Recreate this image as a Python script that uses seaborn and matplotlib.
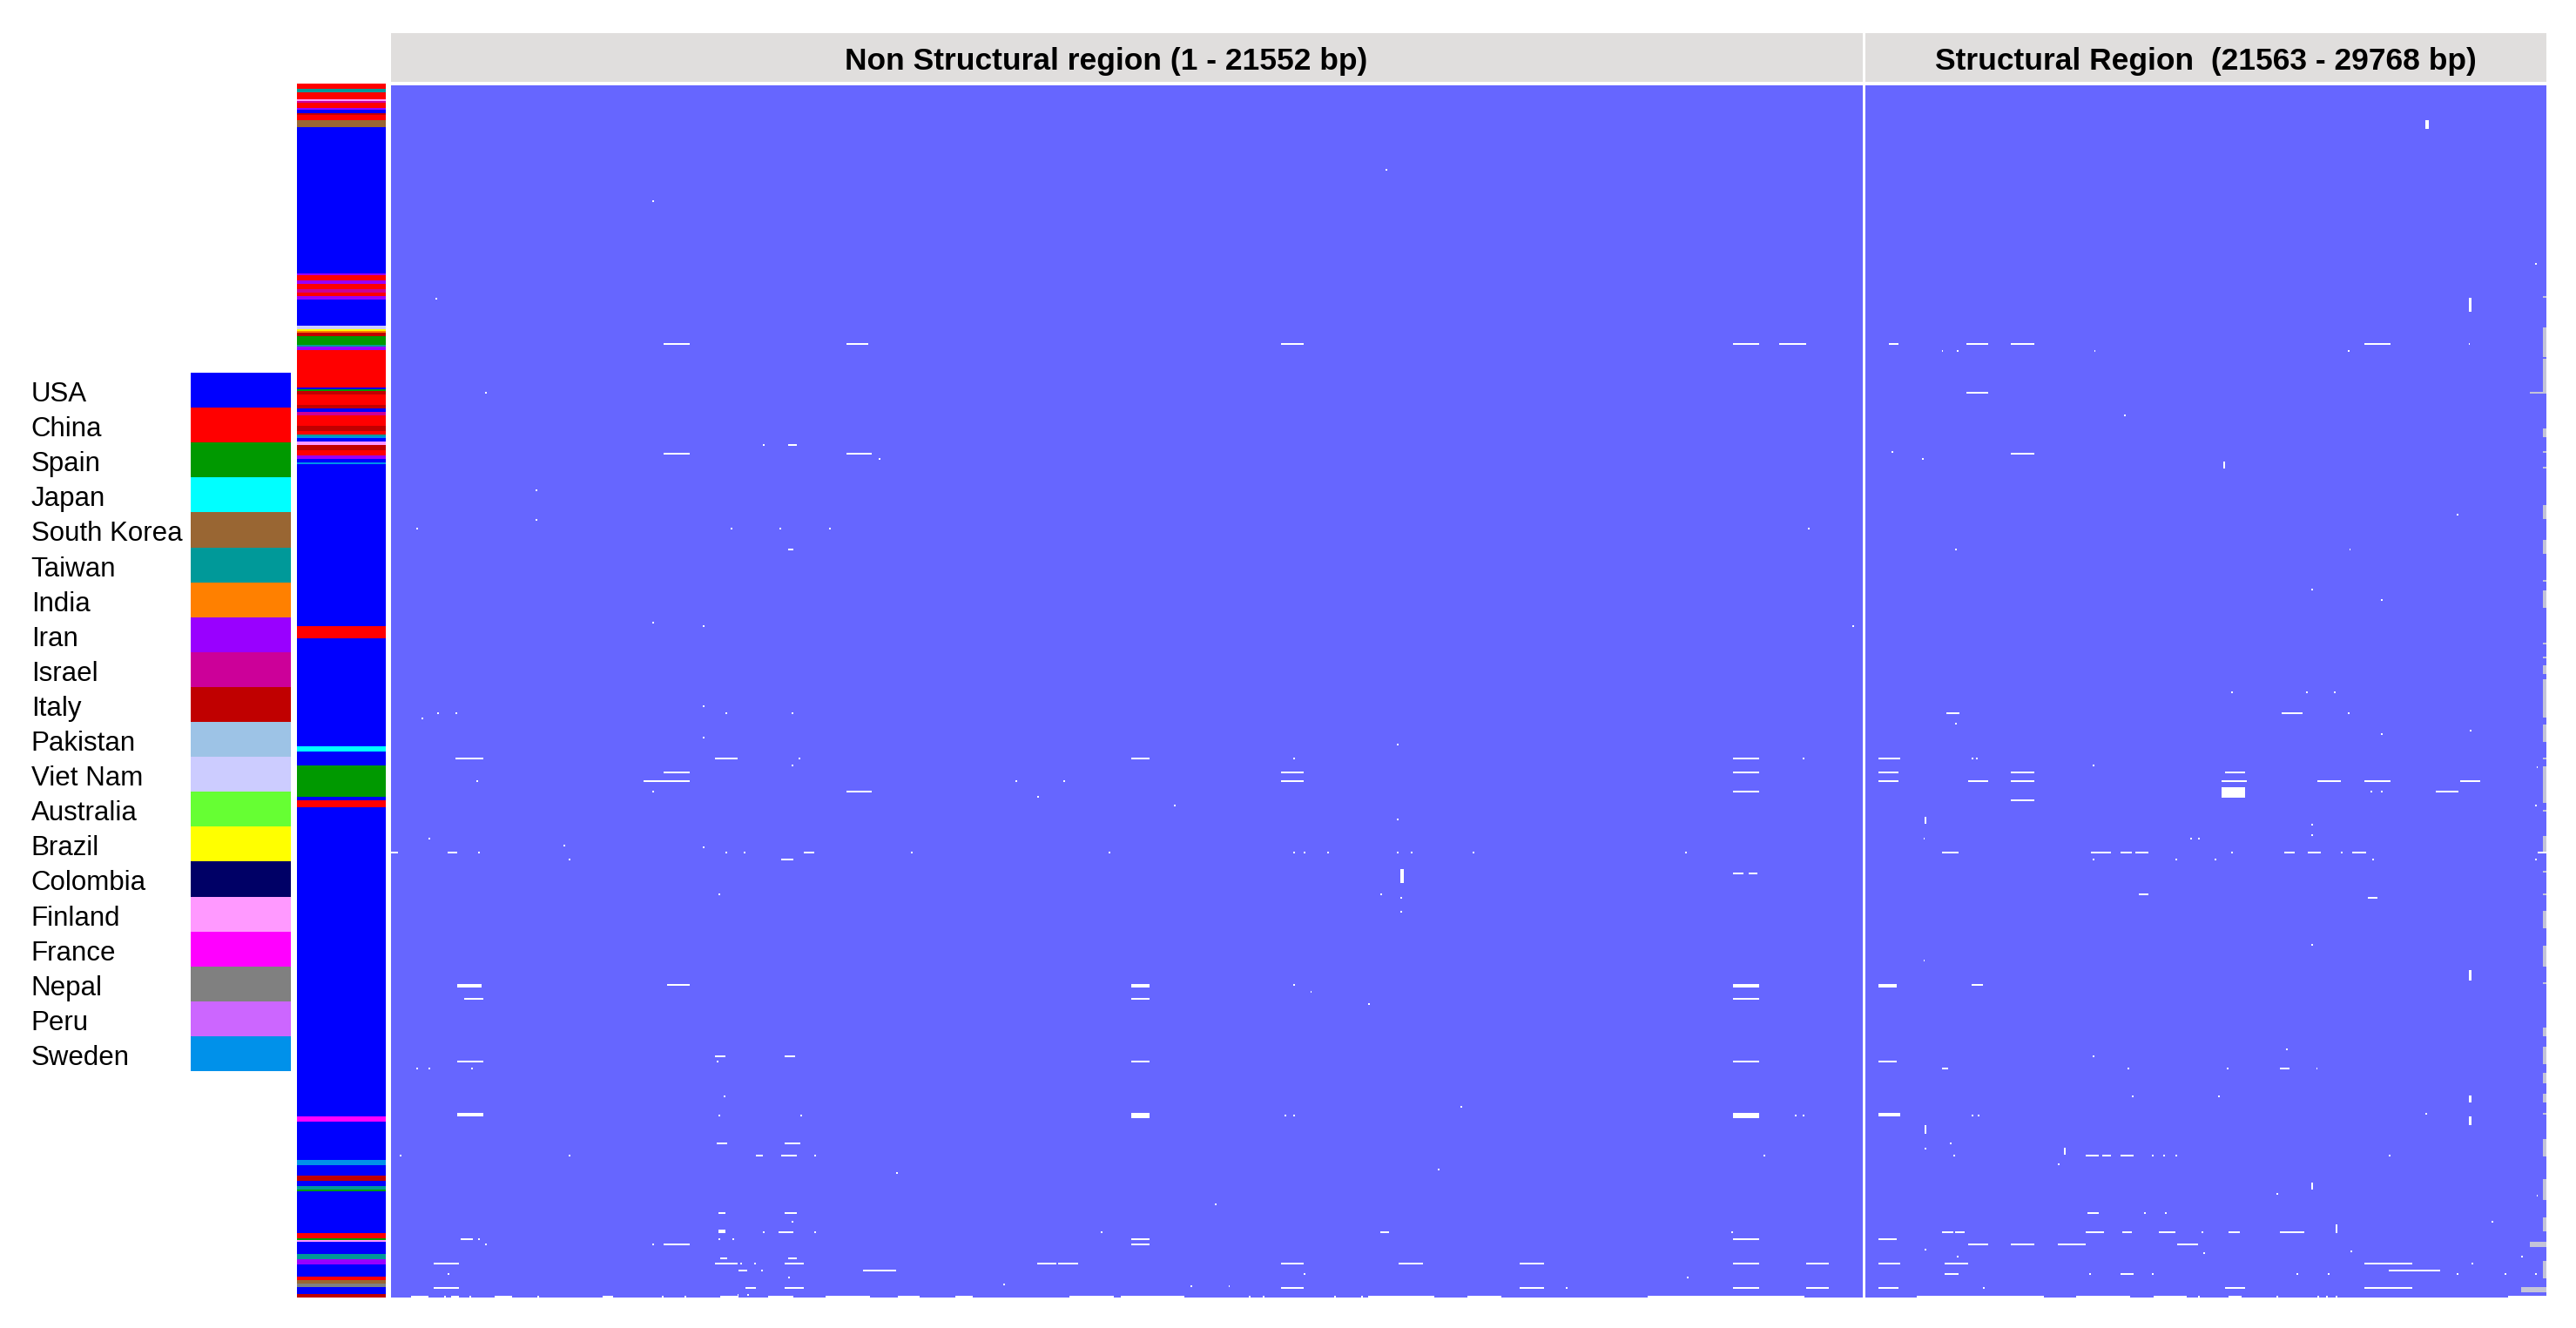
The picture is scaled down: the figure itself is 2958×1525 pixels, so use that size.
import numpy as np
import matplotlib
matplotlib.use("Agg")
import matplotlib.pyplot as plt
import matplotlib.transforms as mtransforms
from matplotlib.colors import ListedColormap
import seaborn as sns

plt.rcParams['font.family'] = ['Liberation Sans', 'DejaVu Sans']

countries = ["USA", "China", "Spain", "Japan", "South Korea", "Taiwan", "India",
             "Iran", "Israel", "Italy", "Pakistan", "Viet Nam", "Australia", "Brazil",
             "Colombia", "Finland", "France", "Nepal", "Peru", "Sweden"]
country_colors = ["#0000FF", "#FF0000", "#009900", "#00FFFF", "#996633", "#009999",
                  "#FF8000", "#9900FF", "#CC0099", "#C00000", "#9DC3E6", "#CCCCFF",
                  "#66FF33", "#FFFF00", "#000066", "#FF99FF", "#FF00FF", "#808080",
                  "#CC66FF", "#0091EA"]

regions = ["Non Structural region (1 - 21552 bp)", "Structural Region  (21563 - 29768 bp)"]
ns_start, ns_end = 1, 21552
s_start, s_end = 21563, 29768

# sequence order, top to bottom, as runs of (country, number of sequences)
seq_runs = [("China", 3), ("Taiwan", 2), ("China", 4), ("Finland", 1), ("Israel", 1),
            ("China", 3), ("Iran", 1), ("USA", 2), ("Italy", 1), ("China", 3),
            ("South Korea", 4), ("USA", 84), ("Iran", 1), ("China", 3), ("Iran", 2),
            ("China", 3), ("Israel", 2), ("China", 2), ("Iran", 2), ("USA", 15),
            ("Viet Nam", 2), ("Brazil", 1), ("India", 1), ("Italy", 2), ("Spain", 5),
            ("Taiwan", 1), ("Iran", 2), ("China", 21), ("USA", 1), ("Spain", 1),
            ("Italy", 2), ("China", 6), ("Italy", 2), ("USA", 2), ("Israel", 2),
            ("China", 6), ("Italy", 3), ("China", 2), ("Taiwan", 1), ("Sweden", 1),
            ("USA", 2), ("Finland", 2), ("Italy", 3), ("China", 3), ("Iran", 2),
            ("USA", 2), ("Sweden", 1), ("USA", 93), ("China", 7), ("USA", 62),
            ("Japan", 3), ("USA", 8), ("Spain", 18), ("USA", 2), ("China", 4),
            ("USA", 177), ("France", 3), ("USA", 22), ("Sweden", 3), ("USA", 6),
            ("Italy", 3), ("USA", 3), ("Taiwan", 2), ("Spain", 1), ("USA", 24),
            ("China", 3), ("Spain", 1), ("Finland", 1), ("USA", 7), ("Taiwan", 3),
            ("Iran", 3), ("USA", 7), ("China", 2), ("South Korea", 2), ("Nepal", 2),
            ("USA", 4), ("Italy", 2)]

# single-site differences: (sequence, position bp)
ns_dots = [(48, 14590), (66, 3830), (122, 660), (176, 1380), (206, 5470), (214, 7170),
           (232, 2140), (249, 2140), (254, 400), (254, 4990), (254, 5710), (254, 6440),
           (254, 20780), (308, 3830), (310, 4580), (310, 21430),
           (356, 4590), (360, 690), (360, 960), (360, 4920), (360, 5900), (363, 460),
           (374, 4590), (378, 14760), (386, 6000), (386, 13230), (386, 20720), (390, 5890),
           (399, 1260), (399, 9170), (399, 9870), (405, 3830), (408, 9490), (413, 11480),
           (421, 14760), (432, 570), (436, 2550), (437, 4590), (440, 1290), (440, 4910),
           (440, 5190), (440, 7650), (440, 10540), (440, 13250), (440, 13400), (440, 13740),
           (440, 14760), (440, 14960), (440, 15860), (440, 19000), (444, 2610), (464, 4820),
           (464, 14510), (466, 14820), (474, 14820), (516, 13230), (520, 13500), (527, 14330),
           (560, 4790), (564, 380), (564, 570), (564, 1190), (580, 4880), (586, 15700),
           (591, 4820), (591, 6010), (591, 13110), (591, 13230), (591, 20600), (591, 20720),
           (614, 140), (614, 2610), (614, 6220), (614, 20150), (622, 15360), (624, 7420),
           (642, 12090), (652, 5890), (658, 5460), (658, 6220), (658, 10420), (658, 19670),
           (662, 1290), (662, 4820), (662, 5010), (665, 1390), (665, 3830), (676, 5150),
           (676, 5340), (680, 5440), (682, 850), (682, 13400), (684, 5840), (684, 19010),
           (688, 9000), (689, 11740), (689, 12300), (690, 17230), (694, 5090), (694, 5250),
           (695, 380), (695, 790), (695, 1170), (695, 2170), (695, 3980), (695, 4310),
           (695, 12580), (695, 12800), (695, 13850), (695, 14240)]
s_dots = [(102, 29650), (148, 28860), (152, 22500), (152, 22670), (152, 24340), (152, 27400),
          (189, 24690), (210, 21890), (214, 22260), (246, 28710), (266, 22660), (266, 27420),
          (289, 26950), (295, 27800), (348, 26000), (348, 26900), (348, 27230),
          (360, 27400), (366, 22660), (370, 28870), (372, 27800), (386, 22850), (386, 22920),
          (390, 24320), (391, 29680), (405, 27680), (405, 27800), (413, 29650), (424, 26950),
          (430, 26950), (432, 22280), (432, 25490), (432, 25600), (440, 26000), (440, 27320),
          (444, 24320), (444, 25320), (444, 25790), (444, 27700), (444, 29650), (493, 26950),
          (502, 22280), (553, 26650), (557, 24320), (564, 24730), (564, 25930), (564, 27020),
          (580, 24790), (580, 25830), (590, 28340), (591, 22860), (591, 22940), (607, 22590),
          (610, 22290), (614, 22640), (614, 25030), (614, 25170), (614, 25320), (614, 27900),
          (619, 23890), (636, 26540), (637, 29680), (647, 24930), (647, 25200), (652, 29140),
          (658, 25630), (668, 22290), (669, 27440), (670, 25660), (672, 29500), (672, 22680),
          (676, 28900), (682, 24280), (682, 25030), (682, 26770), (682, 27150), (682, 28710),
          (682, 29300), (682, 29650), (690, 23000), (695, 25600), (695, 26540), (695, 27030),
          (695, 27140), (695, 27250)]

# longer stretches: (first sequence, start bp, end bp, number of sequences)
ns_runs = [(148, 4020, 4370, 1), (148, 6690, 6990, 1), (148, 13070, 13370, 1),
           (148, 19690, 20030, 1), (148, 20370, 20740, 1), (206, 5850, 5930, 1),
           (211, 4020, 4370, 1), (211, 6690, 7030, 1), (266, 5850, 5900, 1),
           (386, 960, 1350, 1), (386, 4760, 5060, 1), (386, 10860, 11110, 1),
           (386, 19690, 20030, 1), (394, 4020, 4370, 1), (394, 13070, 13370, 1),
           (394, 19690, 20030, 1), (399, 3710, 4370, 1), (399, 13070, 13370, 1),
           (405, 6690, 7040, 1), (405, 19690, 20030, 1), (440, 1, 80, 1), (440, 830, 960, 1),
           (440, 6070, 6180, 1), (444, 5740, 5890, 1), (450, 14820, 14830, 8),
           (452, 19690, 19810, 1), (452, 19920, 20020, 1), (516, 990, 1310, 2),
           (516, 4070, 4360, 1), (516, 10860, 11110, 2), (516, 19690, 20030, 2),
           (524, 1100, 1330, 1), (524, 10860, 11110, 1), (524, 19690, 20030, 1),
           (557, 4760, 4900, 1), (557, 5780, 5920, 1), (560, 990, 1330, 1),
           (560, 10860, 11110, 1), (560, 19690, 20030, 1), (590, 990, 1330, 2),
           (590, 10860, 11110, 3), (590, 19690, 20030, 3), (607, 4790, 4920, 1),
           (607, 5800, 5980, 1), (614, 5360, 5440, 1), (614, 5750, 5950, 1),
           (647, 4810, 4900, 1), (647, 5800, 5940, 1), (657, 4810, 4900, 2),
           (658, 5700, 5890, 1), (658, 14510, 14610, 1), (662, 1050, 1190, 1),
           (662, 10860, 11110, 1), (662, 19690, 20030, 1), (665, 4020, 4370, 1),
           (665, 10860, 11110, 1), (673, 4830, 4910, 1), (673, 5830, 5940, 1),
           (676, 640, 980, 1), (676, 4760, 5060, 1), (676, 5780, 6040, 1),
           (676, 9490, 9730, 1), (676, 9800, 10070, 1), (676, 13070, 13370, 1),
           (676, 14780, 15110, 1), (676, 16560, 16890, 1), (676, 19690, 20030, 1),
           (676, 20760, 21060, 1), (680, 5110, 5210, 1), (680, 6950, 7380, 1),
           (690, 640, 980, 1), (690, 5210, 5340, 1), (690, 5780, 6040, 1),
           (690, 13070, 13370, 1), (690, 16560, 16890, 1), (690, 19690, 20030, 1),
           (690, 20760, 21060, 1), (695, 310, 540, 1), (695, 890, 990, 1),
           (695, 1530, 1770, 1), (695, 3110, 3230, 1), (695, 4850, 5090, 1),
           (695, 5530, 5900, 1), (695, 6390, 7010, 1), (695, 7450, 7740, 1),
           (695, 8290, 8520, 1), (695, 9960, 10580, 1), (695, 10720, 11620, 1),
           (695, 14330, 15290, 1), (695, 15780, 16260, 1), (695, 18450, 20710, 1)]
s_runs = [(20, 28340, 28350, 5), (122, 28860, 28870, 8), (148, 21850, 21950, 1),
          (148, 22800, 23040, 1), (148, 23330, 23590, 1), (148, 27590, 27900, 1),
          (176, 22800, 23040, 1), (211, 23330, 23590, 1), (216, 25890, 25900, 4),
          (360, 22550, 22700, 1), (360, 26600, 26830, 1), (386, 21730, 21980, 1),
          (394, 21730, 21950, 1), (394, 23340, 23590, 1), (394, 25910, 26140, 1),
          (399, 21730, 21950, 1), (399, 22810, 23040, 1), (399, 23340, 23590, 1),
          (399, 25880, 26150, 1), (399, 27030, 27290, 1), (399, 27590, 27890, 1),
          (399, 28760, 28980, 1), (403, 25880, 26140, 6), (405, 28460, 28710, 1),
          (410, 23340, 23590, 1), (420, 22290, 22300, 4), (440, 22490, 22670, 1),
          (440, 24290, 24510, 1), (440, 24660, 24780, 1), (440, 24830, 24970, 1),
          (440, 26640, 26730, 1), (440, 26920, 27050, 1), (440, 27460, 27590, 1),
          (440, 29690, 29768, 1), (464, 24880, 24970, 1), (466, 27640, 27740, 1),
          (508, 28860, 28870, 6), (516, 21740, 21940, 2), (516, 22850, 22970, 1),
          (560, 21740, 21940, 1), (564, 22490, 22560, 1), (564, 26580, 26680, 1),
          (580, 28860, 28870, 4), (590, 21740, 21980, 2), (592, 28860, 28870, 5),
          (597, 22290, 22300, 5), (610, 23970, 23980, 4), (614, 24230, 24370, 1),
          (614, 24430, 24520, 1), (614, 24650, 24800, 1), (630, 26950, 26960, 4),
          (647, 24260, 24370, 1), (654, 27250, 27260, 5), (658, 22490, 22620, 1),
          (658, 22660, 22760, 1), (658, 24230, 24430, 1), (658, 24680, 24780, 1),
          (658, 25110, 25290, 1), (658, 25960, 26070, 1), (658, 26580, 26860, 1),
          (662, 21740, 21940, 1), (665, 22810, 23040, 1), (665, 23340, 23590, 1),
          (665, 23900, 24210, 1), (665, 25330, 25570, 1), (676, 21740, 21980, 1),
          (676, 22530, 22790, 1), (676, 27590, 28160, 1), (680, 27890, 28490, 1),
          (682, 22530, 22670, 1), (682, 24660, 24800, 1), (690, 21740, 21950, 1),
          (690, 25910, 26140, 1), (690, 27590, 28160, 1), (695, 22200, 23710, 1),
          (695, 24110, 24750, 1), (695, 25060, 25430, 1), (695, 25960, 26100, 1),
          (695, 29340, 29768, 1)]

# ambiguous bases at the 3' end: (first sequence, number of sequences, start bp)
grey_cells = [(121, 1, 29760), (139, 17, 29760), (157, 19, 29760), (176, 1, 29590),
              (197, 5, 29760), (210, 1, 29760), (219, 1, 29760), (241, 8, 29760),
              (261, 8, 29760), (284, 1, 29760), (290, 10, 29760), (320, 1, 29760),
              (328, 1, 29760), (333, 5, 29760), (341, 8, 29760), (349, 14, 29760),
              (367, 10, 29760), (386, 1, 29760), (391, 21, 29750), (416, 1, 29760),
              (431, 10, 29760), (451, 1, 29760), (464, 1, 29760), (474, 10, 29760),
              (494, 12, 29760), (515, 1, 29760), (541, 5, 29760), (552, 10, 29760),
              (567, 6, 29760), (579, 5, 29760), (590, 1, 29760), (605, 10, 29760),
              (628, 12, 29760), (650, 8, 29760), (664, 3, 29590), (675, 10, 29760),
              (690, 3, 29500)]

# build matrices
seq_country = np.concatenate([[countries.index(c)] * n for c, n in seq_runs])
n_seq = len(seq_country)
ns_bw, s_bw = 25, 20
ns_mat = np.zeros((n_seq, (ns_end - ns_start) // ns_bw + 1))
s_mat = np.zeros((n_seq, (s_end - s_start) // s_bw + 1))


def mark(seq, start, end, rows, val):
    for mat, lo, hi, bw in [(ns_mat, ns_start, ns_end, ns_bw), (s_mat, s_start, s_end, s_bw)]:
        a, b = max(start, lo), min(end, hi)
        if a <= b:
            mat[seq:seq + rows, (a - lo) // bw:(b - lo) // bw + 1] = val


for seq, rows, start in grey_cells:
    mark(seq, start, s_end, rows, 2)
for seq, pos in ns_dots + s_dots:
    mark(seq, pos, pos, 1, 1)
for seq, start, end, rows in ns_runs + s_runs:
    mark(seq, start, end, rows, 1)

W, H = 2958, 1525
fig = plt.figure(figsize=(W / 100, H / 100), dpi=100)
mut_cmap = ListedColormap(["#6666FF", "white", "#C4C4D8"])
country_cmap = ListedColormap(country_colors)

top, bottom = 1 - 98 / H, 1 - 1490 / H
panels = [(449, 2139, ns_mat, regions[0], 0.486), (2142, 2924, s_mat, regions[1], 0.5)]
for x0, x1, mat, title, tx in panels:
    ax = fig.add_axes([x0 / W, bottom, (x1 - x0) / W, top - bottom])
    sns.heatmap(mat, ax=ax, cmap=mut_cmap, vmin=-0.5, vmax=2.5, cbar=False,
                xticklabels=False, yticklabels=False)
    hx = fig.add_axes([x0 / W, 1 - 94 / H, (x1 - x0) / W, 56 / H])
    hx.set_facecolor("#E0DEDD")
    hx.set_xticks([])
    hx.set_yticks([])
    for s in hx.spines.values():
        s.set_visible(False)
    hx.text(tx, 0.42, title, ha="center", va="center", fontsize=25.5,
            fontweight="bold", transform=hx.transAxes)

# country strip
ax_strip = fig.add_axes([341 / W, bottom, 102 / W, top - bottom + 2 / H])
sns.heatmap(seq_country[:, None], ax=ax_strip, cmap=country_cmap, vmin=-0.5,
            vmax=len(countries) - 0.5, cbar=False, xticklabels=False, yticklabels=False)

# legend
ax_leg = fig.add_axes([219 / W, 1 - 1230 / H, 115 / W, 802 / H])
sns.heatmap(np.arange(len(countries))[:, None], ax=ax_leg, cmap=country_cmap, vmin=-0.5,
            vmax=len(countries) - 0.5, cbar=False, xticklabels=False, yticklabels=countries)
ax_leg.tick_params(axis="y", length=0, pad=132, labelsize=22.5)
shift = mtransforms.ScaledTranslation(0, -0.05, fig.dpi_scale_trans)
for lbl in ax_leg.get_yticklabels():
    lbl.set_rotation(0)
    lbl.set_ha("left")
    lbl.set_transform(lbl.get_transform() + shift)

fig.savefig("out.png", dpi=100)
